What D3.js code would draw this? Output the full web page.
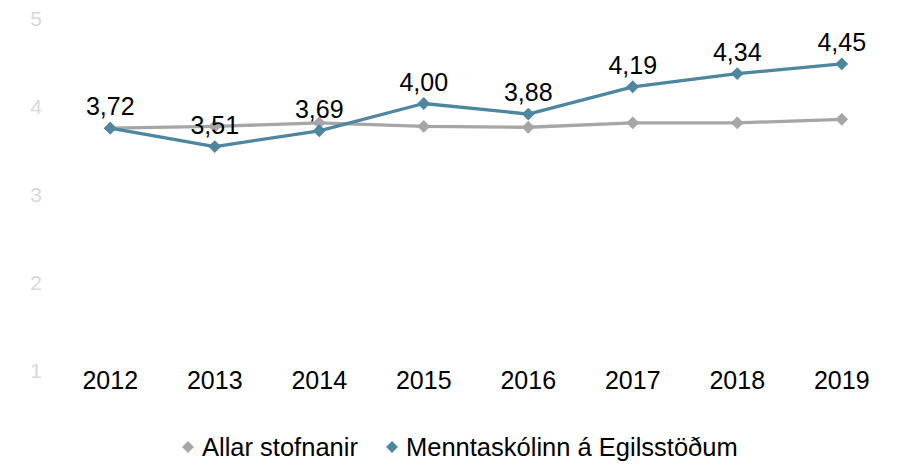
<!DOCTYPE html>
<html>
<head>
<meta charset="utf-8">
<script src="https://cdn.jsdelivr.net/npm/d3@7"></script>
<style>
  body { margin: 0; background: #fff; }
  text { font-family: "Liberation Sans", Arial, sans-serif; }
</style>
</head>
<body>
<div id="chart"></div>
<script>
// data
const years = ["2012", "2013", "2014", "2015", "2016", "2017", "2018", "2019"];
const allarValues = [3.72, 3.74, 3.78, 3.74, 3.73, 3.78, 3.78, 3.82];
const meValues = [3.72, 3.51, 3.69, 4.00, 3.88, 4.19, 4.34, 4.45];
const yTicks = [1, 2, 3, 4, 5];
const seriesNames = ["Allar stofnanir", "Menntaskólinn á Egilsstöðum"];
const seriesColors = ["#a6a6a6", "#4e86a0"];

const width = 905;
const height = 469;

const svg = d3.select("#chart").append("svg")
  .attr("width", width)
  .attr("height", height);

// scales
const x = d3.scaleBand()
  .domain(years)
  .range([58, 894]);

const y = d3.scaleLinear()
  .domain([1, 5])
  .range([367.5, 15.5]);

// y axis labels (no line)
svg.append("g")
  .attr("transform", "translate(42, 3)")
  .call(d3.axisLeft(y).tickValues(yTicks).tickFormat(d3.format("d")).tickSize(0).tickPadding(0))
  .call(g => g.select(".domain").remove())
  .selectAll("text")
    .attr("fill", "#d9d9d9")
    .style("font-size", "21px")
    .style("font-family", "Liberation Sans, Arial, sans-serif");

// x axis labels
svg.append("g")
  .attr("transform", "translate(0, 371)")
  .call(d3.axisBottom(x).tickSize(0).tickPadding(0))
  .call(g => g.select(".domain").remove())
  .selectAll("text")
    .attr("fill", "#000")
    .style("font-size", "25px")
    .style("font-family", "Liberation Sans, Arial, sans-serif");

const cx = d => x(d) + x.bandwidth() / 2;

const line = d3.line()
  .x((d, i) => cx(years[i]))
  .y(d => y(d));

const diamond = d3.symbol().type(d3.symbolDiamond2).size(105);

[allarValues, meValues].forEach((vals, s) => {
  svg.append("path")
    .datum(vals)
    .attr("fill", "none")
    .attr("stroke", seriesColors[s])
    .attr("stroke-width", 3.3)
    .attr("stroke-linejoin", "round")
    .attr("d", line);

  svg.selectAll(".m" + s)
    .data(vals)
    .enter().append("path")
    .attr("class", "m" + s)
    .attr("d", diamond)
    .attr("fill", seriesColors[s])
    .attr("transform", (d, i) => `translate(${cx(years[i])}, ${y(d)})`);
});

// value labels for the school
svg.selectAll(".vlabel")
  .data(meValues)
  .enter().append("text")
  .attr("class", "vlabel")
  .attr("x", (d, i) => cx(years[i]))
  .attr("y", d => y(d) - 13)
  .attr("text-anchor", "middle")
  .style("font-size", "25px")
  .attr("fill", "#000")
  .text(d => d.toFixed(2).replace(".", ","));

// legend
const legend = svg.append("g").attr("transform", "translate(0, 447)");
const legendX = [188, 392];
seriesNames.forEach((name, i) => {
  legend.append("path")
    .attr("d", d3.symbol().type(d3.symbolDiamond2).size(90))
    .attr("fill", seriesColors[i])
    .attr("transform", `translate(${legendX[i]}, 0)`);
  legend.append("text")
    .attr("x", legendX[i] + 14)
    .attr("dy", "0.35em")
    .style("font-size", "25.5px")
    .attr("fill", "#000")
    .text(name);
});
</script>
</body>
</html>
